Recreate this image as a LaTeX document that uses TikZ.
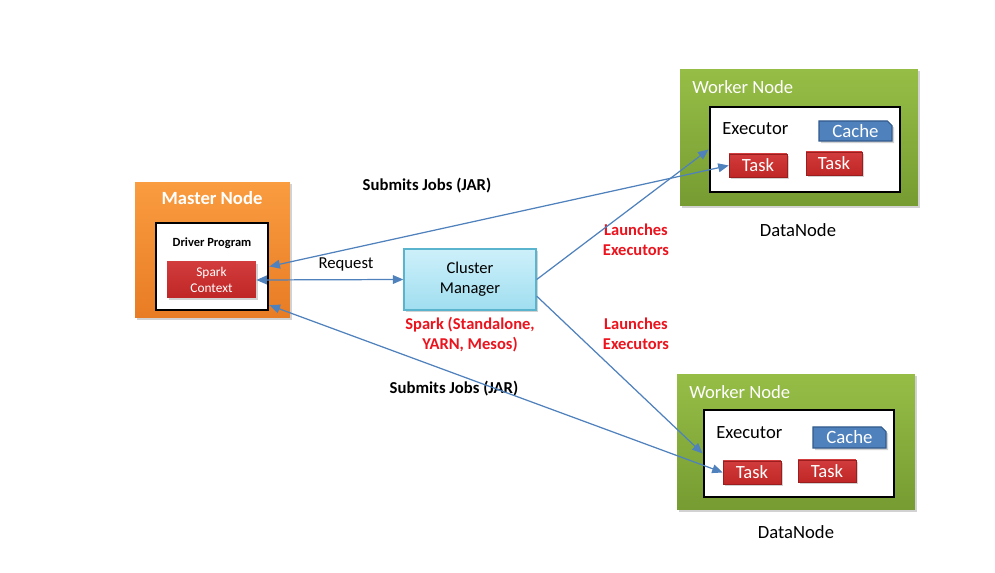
\documentclass[tikz,border=0pt]{standalone}
\usepackage{fontspec}
\setmainfont{Carlito}
\usetikzlibrary{arrows.meta,shadows,shapes.misc,calc}
\definecolor{arrowblue}{RGB}{79,129,189}
\definecolor{orangetop}{RGB}{250,156,64}
\definecolor{orangebot}{RGB}{232,124,36}
\definecolor{greentop}{RGB}{150,190,70}
\definecolor{greenbot}{RGB}{118,156,50}
\definecolor{cmtop}{RGB}{205,240,250}
\definecolor{cmbot}{RGB}{160,222,240}
\definecolor{cmborder}{RGB}{90,180,205}
\definecolor{taskred}{RGB}{192,38,38}
\definecolor{taskredtop}{RGB}{210,60,60}
\definecolor{cacheblue}{RGB}{79,129,189}
\definecolor{cacheborder}{RGB}{50,90,140}
\definecolor{labelred}{RGB}{235,20,30}
\tikzset{
  shad/.style={drop shadow={opacity=0.35,shadow xshift=1.2pt,shadow yshift=-1.2pt}},
  masterbox/.style={shad,rectangle,top color=orangetop,bottom color=orangebot,draw=none,inner sep=0pt},
  workerbox/.style={shad,rectangle,top color=greentop,bottom color=greenbot,draw=none,inner sep=0pt},
  innerbox/.style={rectangle,fill=white,draw=black,line width=1.6pt,inner sep=0pt},
  taskbox/.style={shad,rectangle,top color=taskredtop,bottom color=taskred,draw=taskred!80!black,line width=0.3pt,
     text=white,font=\fontsize{10.6}{11}\selectfont,inner sep=0pt},
  cachebox/.style={shad,chamfered rectangle,chamfered rectangle corners=north east,chamfered rectangle xsep=1.3pt,chamfered rectangle ysep=1.3pt,
     fill=cacheblue,draw=cacheborder,line width=0.6pt,text=white,font=\fontsize{10.7}{11}\selectfont,inner sep=0pt},
  cmbox/.style={shad,rectangle,top color=cmtop,bottom color=cmbot,draw=cmborder,line width=0.8pt,
     align=center,font=\fontsize{9.4}{11.5}\selectfont,inner sep=0pt},
  title/.style={text=white,font=\fontsize{10.6}{12}\selectfont,inner sep=0pt},
  plain/.style={font=\fontsize{10.6}{12}\selectfont,inner sep=0pt},
  boldlab/.style={font=\bfseries\fontsize{9.5}{11}\selectfont,inner sep=0pt},
  redlab/.style={text=labelred,align=center,font=\bfseries\fontsize{9.4}{11.3}\selectfont,inner sep=0pt},
  conn/.style={draw=arrowblue,line width=0.7pt},
  tip/.style={-{Triangle[length=6pt,width=5pt]}},
  tips/.style={{Triangle[length=6pt,width=5pt]}-{Triangle[length=6pt,width=5pt]}},
}
\begin{document}
\begin{tikzpicture}[x=0.02cm,y=-0.02cm]
\useasboundingbox[fill=white] (0,0) rectangle (995,573);

% Master node
\node[masterbox,minimum width=3.1cm,minimum height=2.72cm] (master) at (212.5,250) {};
\node[title,font=\bfseries\fontsize{10.6}{12}\selectfont] (mastertitle) at (212,198) {Master Node};
\node[innerbox,minimum width=2.24cm,minimum height=1.74cm] (driver) at (212,266.5) {};
\node[inner sep=0pt,font=\bfseries\fontsize{7.1}{8}\selectfont] (drivertitle) at (212,243) {Driver Program};
\node[shad,rectangle,top color=taskredtop,bottom color=taskred,draw=none,minimum width=1.78cm,minimum height=0.72cm,
      text=white,align=center,font=\fontsize{7.6}{8.8}\selectfont,inner sep=0pt] (spark) at (211.5,280) {Spark\\Context};

% Cluster manager
\node[cmbox,minimum width=2.64cm,minimum height=1.22cm] (cm) at (470,279.5) {Cluster\\Manager};
\node[redlab] (cmlabel) at (470,335) {Spark (Standalone,\\YARN, Mesos)};

% Top worker
\node[workerbox,minimum width=4.76cm,minimum height=2.74cm] (w1) at (799,137.5) {};
\node[title,anchor=west] (w1title) at (692,87) {Worker Node};
\node[innerbox,minimum width=3.8cm,minimum height=1.7cm] (exec1) at (805,149.5) {};
\node[plain,anchor=west] (exec1title) at (722,129) {Executor};
\node[cachebox,minimum width=1.46cm,minimum height=0.4cm] (cache1) at (855.5,131) {Cache};
\node[taskbox,minimum width=1.16cm,minimum height=0.46cm] (t1a) at (758,165.5) {Task};
\node[taskbox,minimum width=1.12cm,minimum height=0.46cm] (t1b) at (834,163.5) {Task};
\node[plain] (dn1) at (798,230) {DataNode};

% Bottom worker
\node[workerbox,minimum width=4.76cm,minimum height=2.72cm] (w2) at (796,442) {};
\node[title,anchor=west] (w2title) at (689,392) {Worker Node};
\node[innerbox,minimum width=3.8cm,minimum height=1.74cm] (exec2) at (799,453.5) {};
\node[plain,anchor=west] (exec2title) at (716,433) {Executor};
\node[cachebox,minimum width=1.46cm,minimum height=0.42cm] (cache2) at (849.5,437.5) {Cache};
\node[taskbox,minimum width=1.16cm,minimum height=0.46cm] (t2a) at (752,472.5) {Task};
\node[taskbox,minimum width=1.16cm,minimum height=0.44cm] (t2b) at (827,471) {Task};
\node[plain] (dn2) at (796,532) {DataNode};

% Labels
\node[boldlab] (sub1) at (427,186) {Submits Jobs (JAR)};
\node[boldlab] (sub2) at (454,389) {Submits Jobs (JAR)};
\node[plain,font=\fontsize{9.5}{11}\selectfont] (req) at (346,264) {Request};
\node[redlab] (launch1) at (636,240) {Launches\\Executors};
\node[redlab] (launch2) at (636,334) {Launches\\Executors};

% Connectors
\draw[conn,tips] (driver.east) -- (t1a.west);
\draw[conn,tips] (spark.east) -- (cm.west);
\draw[conn,tip] (cm.east) -- (exec1.west);
\draw[conn,tip] (cm.-14) -- (exec2.west);
\draw[conn,tips] (driver.-34) -- (t2a.west);
\end{tikzpicture}
\end{document}
